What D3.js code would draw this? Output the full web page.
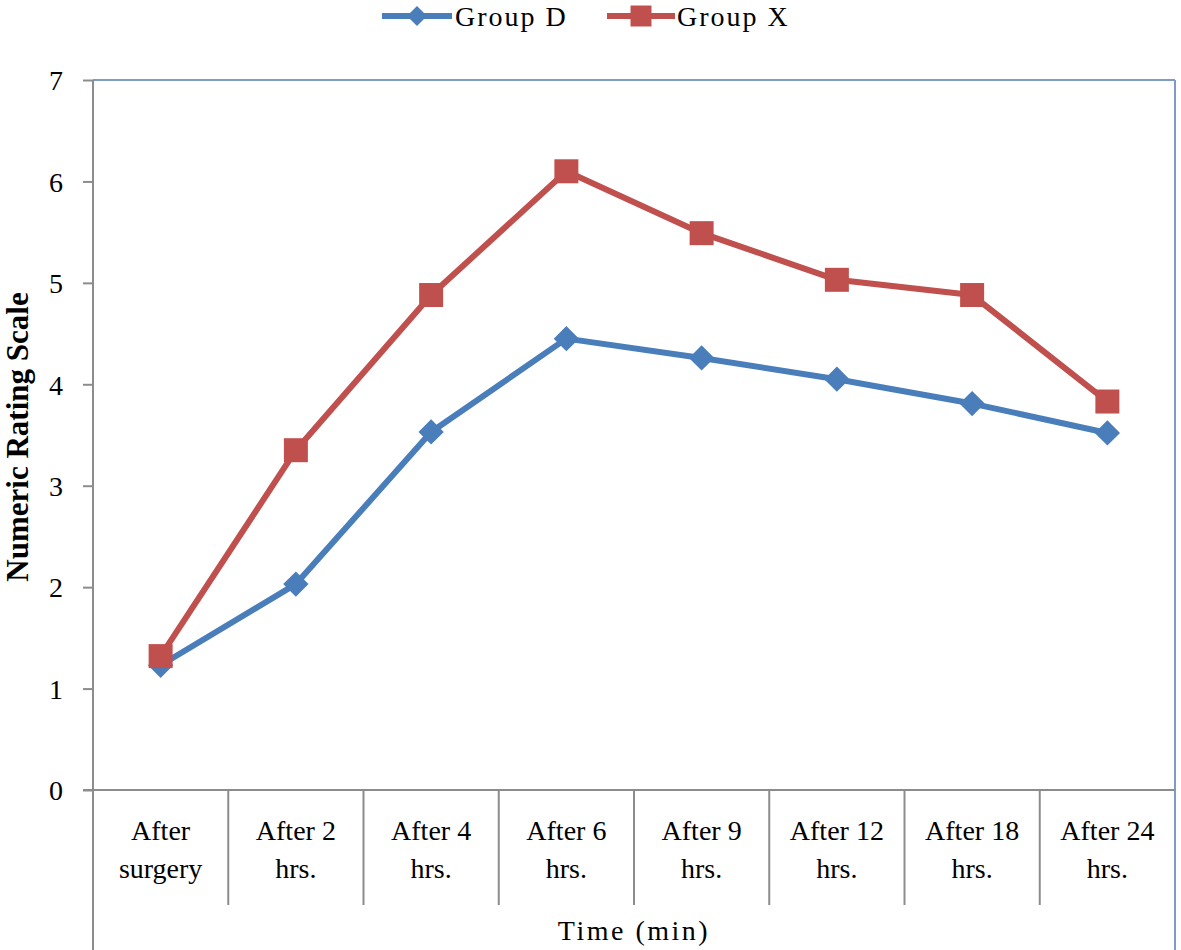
<!DOCTYPE html>
<html>
<head>
<meta charset="utf-8">
<script src="https://cdn.jsdelivr.net/npm/d3@7"></script>
<style>
  html, body { margin: 0; padding: 0; background: #fff; }
  svg text { font-family: "Liberation Serif", "Times New Roman", serif; fill: #000; }
</style>
</head>
<body>
<svg id="chart" width="1181" height="950"></svg>
<script>
const categories = [
  ["After", "surgery"], ["After 2", "hrs."], ["After 4", "hrs."], ["After 6", "hrs."],
  ["After 9", "hrs."], ["After 12", "hrs."], ["After 18", "hrs."], ["After 24", "hrs."]
];
const groupD = [1.23, 2.03, 3.53, 4.45, 4.26, 4.05, 3.81, 3.52];
const groupX = [1.32, 3.35, 4.88, 6.10, 5.49, 5.03, 4.88, 3.83];
const yTicks = [0, 1, 2, 3, 4, 5, 6, 7];
const seriesNames = ["Group D", "Group X"];
const yTitle = "Numeric Rating Scale";
const xTitle = "Time (min)";

const blue = "#4a7ebb", red = "#c0504d";
const axisGray = "#8c8c8c", frameBlue = "#7f9cc4";

const svg = d3.select("#chart");
const L = 93, R = 1175, T = 80, B = 790;

const x = d3.scaleBand().domain(d3.range(categories.length)).range([L, R]).padding(0);
const y = d3.scaleLinear().domain([0, 7]).range([B, T]);

// plot frame (top & right, bluish)
svg.append("line").attr("x1", L).attr("x2", R).attr("y1", T).attr("y2", T)
  .attr("stroke", frameBlue).attr("stroke-width", 2);
svg.append("line").attr("x1", R).attr("x2", R).attr("y1", T).attr("y2", 950)
  .attr("stroke", frameBlue).attr("stroke-width", 2);

// y axis
const yAxis = d3.axisLeft(y).tickValues(yTicks).tickSize(10).tickPadding(20).tickFormat(d3.format("d"));
const gy = svg.append("g").attr("transform", `translate(${L},0)`).call(yAxis);
gy.select(".domain").remove();
gy.selectAll(".tick line").attr("stroke", axisGray).attr("stroke-width", 2);
gy.selectAll(".tick text").style("font-size", "28px").attr("dy", "0.35em");
svg.append("line").attr("x1", L).attr("x2", L).attr("y1", T).attr("y2", 950)
  .attr("stroke", axisGray).attr("stroke-width", 2);

// x axis line
svg.append("line").attr("x1", L - 10).attr("x2", R).attr("y1", B).attr("y2", B)
  .attr("stroke", axisGray).attr("stroke-width", 2);

// category dividers
const dividers = d3.range(1, categories.length).map(i => x(i));
svg.selectAll(".div").data(dividers).enter().append("line")
  .attr("x1", d => d).attr("x2", d => d).attr("y1", B).attr("y2", 905)
  .attr("stroke", axisGray).attr("stroke-width", 2);

// category labels
const catG = svg.selectAll(".cat").data(categories).enter().append("text")
  .attr("text-anchor", "middle").style("font-size", "28px")
  .attr("x", (d, i) => x(i) + x.bandwidth() / 2);
catG.append("tspan").attr("x", (d, i) => x(i) + x.bandwidth() / 2).attr("y", 840).text(d => d[0]);
catG.append("tspan").attr("x", (d, i) => x(i) + x.bandwidth() / 2).attr("y", 878).text(d => d[1]);

// axis titles
svg.append("text").attr("x", (L + R) / 2).attr("y", 940).attr("text-anchor", "middle")
  .style("font-size", "28px").style("letter-spacing", "2.5px").text(xTitle);
svg.append("text").attr("transform", `translate(28,${(T + B) / 2 + 2}) rotate(-90)`)
  .attr("text-anchor", "middle").style("font-size", "31px").style("font-weight", "bold").text(yTitle);

// lines
const line = d3.line().x((d, i) => x(i) + x.bandwidth() / 2).y(d => y(d));
const diamond = d3.symbol().type(d3.symbolSquare).size(320);
const square = d3.symbol().type(d3.symbolSquare).size(576);

svg.append("path").datum(groupD).attr("d", line).attr("fill", "none")
  .attr("stroke", blue).attr("stroke-width", 6).attr("stroke-linejoin", "round");
svg.selectAll(".ptD").data(groupD).enter().append("path")
  .attr("d", diamond)
  .attr("transform", (d, i) => `translate(${x(i) + x.bandwidth() / 2},${y(d)}) rotate(45)`)
  .attr("fill", blue);

svg.append("path").datum(groupX).attr("d", line).attr("fill", "none")
  .attr("stroke", red).attr("stroke-width", 6).attr("stroke-linejoin", "round");
svg.selectAll(".ptX").data(groupX).enter().append("path")
  .attr("d", square)
  .attr("transform", (d, i) => `translate(${x(i) + x.bandwidth() / 2},${y(d)})`)
  .attr("fill", red);

// legend
const legend = [
  { name: seriesNames[0], color: blue, x1: 382, x2: 452, sym: d3.symbol().type(d3.symbolSquare).size(200), rot: 45, tx: 455 },
  { name: seriesNames[1], color: red, x1: 607, x2: 675, sym: d3.symbol().type(d3.symbolSquare).size(440), rot: 0, tx: 677 }
];
const lg = svg.selectAll(".lg").data(legend).enter().append("g");
lg.append("line").attr("x1", d => d.x1).attr("x2", d => d.x2).attr("y1", 16).attr("y2", 16)
  .attr("stroke", d => d.color).attr("stroke-width", 6);
lg.append("path").attr("d", d => d.sym())
  .attr("transform", d => `translate(${(d.x1 + d.x2) / 2},16) rotate(${d.rot})`)
  .attr("fill", d => d.color);
lg.append("text").attr("x", d => d.tx).attr("y", 26).style("font-size", "28px")
  .style("letter-spacing", "2px").text(d => d.name);
</script>
</body>
</html>
